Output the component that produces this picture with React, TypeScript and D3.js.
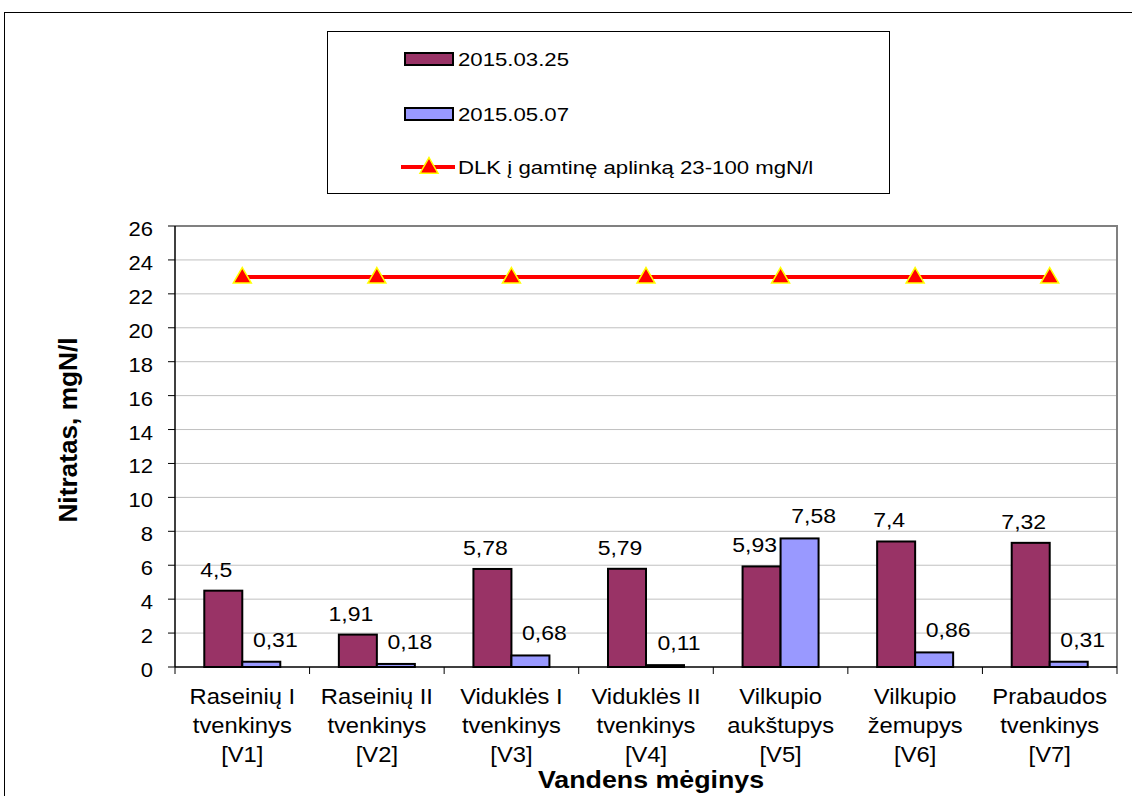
import React, { useEffect, useRef } from 'react';
import * as d3 from 'd3';

const categories = [
  ['Raseinių I', 'tvenkinys', '[V1]'],
  ['Raseinių II', 'tvenkinys', '[V2]'],
  ['Viduklės I', 'tvenkinys', '[V3]'],
  ['Viduklės II', 'tvenkinys', '[V4]'],
  ['Vilkupio', 'aukštupys', '[V5]'],
  ['Vilkupio', 'žemupys', '[V6]'],
  ['Prabaudos', 'tvenkinys', '[V7]'],
];
const march = [4.5, 1.91, 5.78, 5.79, 5.93, 7.4, 7.32];
const may = [0.31, 0.18, 0.68, 0.11, 7.58, 0.86, 0.31];
const limit = [23, 23, 23, 23, 23, 23, 23];
const seriesNames = ['2015.03.25', '2015.05.07', 'DLK į gamtinę aplinką 23-100 mgN/l'];
const yTicks = d3.range(0, 27, 2);

const W = 1132;
const H = 796;
const FONT = '"Liberation Sans", Arial, sans-serif';

type Sel = d3.Selection<any, any, any, any>;

// text slightly stretched sideways, like the original picture
function label(parent: Sel, x: number, y: number, txt: string, size: number, sx: number,
  anchor = 'start', bold = false, rotate = 0) {
  return parent.append('text')
    .attr('transform', `translate(${x},${y}) rotate(${rotate}) scale(${sx},1)`)
    .attr('text-anchor', anchor)
    .style('font-size', size + 'px')
    .style('font-weight', bold ? 'bold' : 'normal')
    .text(txt);
}

export default function App() {
  const svgRef = useRef<SVGSVGElement>(null);

  useEffect(() => {
    if (!svgRef.current) return;
    const svg = d3.select(svgRef.current);
    svg.selectAll('*').remove();
    svg.style('font-family', FONT);

    const plot = { left: 175, right: 1117, top: 226, bottom: 667 };

    // outer chart frame (runs off the picture on the right and bottom)
    svg.append('rect')
      .attr('x', 4.5).attr('y', 12.5)
      .attr('width', W).attr('height', H)
      .attr('fill', '#fff').attr('stroke', '#000').attr('stroke-width', 1);

    const x = d3.scaleBand<number>()
      .domain(d3.range(categories.length))
      .range([plot.left, plot.right]);
    const y = d3.scaleLinear().domain([0, 26]).range([plot.bottom, plot.top]);
    const barW = 38;
    const cx = (i: number) => (x(i) || 0) + x.bandwidth() / 2;

    // gridlines
    svg.append('g').selectAll('line')
      .data(yTicks.filter(t => t > 0 && t < 26))
      .enter().append('line')
      .attr('x1', plot.left).attr('x2', plot.right)
      .attr('y1', d => y(d)).attr('y2', d => y(d))
      .attr('stroke', '#c0c0c0').attr('stroke-width', 1);

    // plot border (top and right gray)
    svg.append('path')
      .attr('d', `M${plot.left},${y(26)}H${plot.right}V${plot.bottom}`)
      .attr('fill', 'none').attr('stroke', '#808080').attr('stroke-width', 2);

    // bars
    const g = svg.append('g');
    g.selectAll('.b1').data(march).enter().append('rect')
      .attr('x', (d, i) => cx(i) - barW)
      .attr('y', d => y(d))
      .attr('width', barW)
      .attr('height', d => y(0) - y(d))
      .attr('fill', '#993366').attr('stroke', '#000').attr('stroke-width', 2);
    g.selectAll('.b2').data(may).enter().append('rect')
      .attr('x', (d, i) => cx(i))
      .attr('y', d => y(d))
      .attr('width', barW)
      .attr('height', d => y(0) - y(d))
      .attr('fill', '#9999ff').attr('stroke', '#000').attr('stroke-width', 2);

    // x axis
    svg.append('line')
      .attr('x1', plot.left).attr('x2', plot.right)
      .attr('y1', y(0)).attr('y2', y(0))
      .attr('stroke', '#000').attr('stroke-width', 1.5);
    svg.append('g').selectAll('line')
      .data(d3.range(categories.length + 1))
      .enter().append('line')
      .attr('x1', i => plot.left + i * x.step()).attr('x2', i => plot.left + i * x.step())
      .attr('y1', y(0)).attr('y2', y(0) + 7)
      .attr('stroke', '#000').attr('stroke-width', 1);

    // y axis
    svg.append('line')
      .attr('x1', plot.left).attr('x2', plot.left)
      .attr('y1', plot.top).attr('y2', plot.bottom)
      .attr('stroke', '#000').attr('stroke-width', 1.5);
    const yAxis = svg.append('g');
    yTicks.forEach(t => {
      yAxis.append('line')
        .attr('x1', plot.left - 7).attr('x2', plot.left)
        .attr('y1', y(t)).attr('y2', y(t))
        .attr('stroke', '#000');
      label(yAxis, plot.left - 22, y(t) + 10, String(t), 19.5, 1.13, 'end');
    });

    // category labels
    const cat = svg.append('g');
    categories.forEach((lines, i) => {
      lines.forEach((s, j) => label(cat, cx(i), 704 + j * 29, s, 22, 1.08, 'middle'));
    });

    // data labels
    const dl = svg.append('g');
    march.forEach((v, i) =>
      label(dl, cx(i) - barW / 2 - 7, y(v) - 14, String(v).replace('.', ','), 19.5, 1.18, 'middle'));
    may.forEach((v, i) =>
      label(dl, cx(i) + barW / 2 + 14, y(v) - 15, String(v).replace('.', ','), 19.5, 1.18, 'middle'));

    // limit line
    const line = d3.line<number>()
      .x((d, i) => cx(i))
      .y(d => y(d));
    svg.append('path').datum(limit)
      .attr('d', line)
      .attr('fill', 'none').attr('stroke', '#ff0000').attr('stroke-width', 4);
    const tri = d3.symbol().type(d3.symbolTriangle).size(140);
    svg.append('g').selectAll('path').data(limit).enter().append('path')
      .attr('d', tri)
      .attr('transform', (d, i) => `translate(${cx(i)},${y(d) + 1})`)
      .attr('fill', '#ff0000').attr('stroke', '#ffff00').attr('stroke-width', 1.5);

    // axis titles
    label(svg, 77, 430, 'Nitratas, mgN/l', 25, 1.05, 'middle', true, -90);
    label(svg, 651, 788, 'Vandens mėginys', 23.5, 1.14, 'middle', true);

    // legend
    const lg = svg.append('g');
    lg.append('rect')
      .attr('x', 327.5).attr('y', 31.5).attr('width', 562).attr('height', 162)
      .attr('fill', '#fff').attr('stroke', '#000').attr('stroke-width', 1);
    const ly = [59, 114, 167];
    ['#993366', '#9999ff'].forEach((c, i) => {
      lg.append('rect')
        .attr('x', 405).attr('y', ly[i] - 6).attr('width', 48).attr('height', 12)
        .attr('fill', c).attr('stroke', '#000').attr('stroke-width', 2);
    });
    lg.append('line')
      .attr('x1', 401).attr('x2', 455).attr('y1', ly[2]).attr('y2', ly[2])
      .attr('stroke', '#ff0000').attr('stroke-width', 4);
    lg.append('path')
      .attr('d', tri)
      .attr('transform', `translate(429,${ly[2] + 1})`)
      .attr('fill', '#ff0000').attr('stroke', '#ffff00').attr('stroke-width', 1.5);
    seriesNames.forEach((s, i) => label(lg, 458, ly[i] + 7, s, 18.5, 1.2));
  }, []);

  return (
    <svg ref={svgRef} width={W} height={H}
      style={{ position: 'absolute', left: 0, top: 0, display: 'block', background: '#fff' }} />
  );
}
